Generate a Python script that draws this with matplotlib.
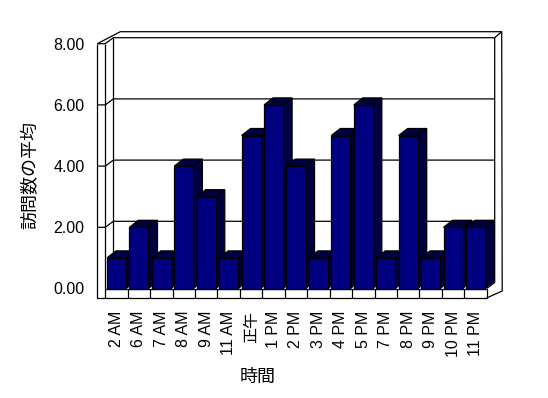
import matplotlib
matplotlib.use('Agg')
import matplotlib.pyplot as plt

plt.rcParams['font.family'] = ['Liberation Sans', 'Noto Sans CJK JP']
plt.rcParams['font.size'] = 11.5

hours = ['2 AM', '6 AM', '7 AM', '8 AM', '9 AM', '11 AM', '正午', '1 PM', '2 PM',
         '3 PM', '4 PM', '5 PM', '7 PM', '8 PM', '9 PM', '10 PM', '11 PM']
visits = [1, 2, 1, 4, 3, 1, 5, 6, 4, 1, 5, 6, 1, 5, 1, 2, 2]
y_ticks = [0, 2, 4, 6, 8]

front_col = '#000080'
dark_col = '#000040'
lw = 0.9

fig = plt.figure(figsize=(5.48, 3.98), dpi=100)
ax = fig.add_axes([105.3 / 548, (398 - 288.5) / 398, 381.4 / 548, 244.8 / 398])
n = len(hours)
x0, x1 = -0.5, n - 0.5
ax.set_xlim(x0, x1)
ax.set_ylim(0, 8)
for s in ax.spines.values():
    s.set_visible(False)

# pixels per data unit, to shift things "into depth"
p0 = ax.transData.transform((0, 0))
p1 = ax.transData.transform((1, 1))
ppx, ppy = p1[0] - p0[0], p1[1] - p0[1]


def pt(x, y, dx=0, dy=0):
    # dx to the right, dy downwards, in pixels
    return (x + dx / ppx, y - dy / ppy)


def line(*pts, z=1):
    xs = [p[0] for p in pts]
    ys = [p[1] for p in pts]
    ax.plot(xs, ys, color='black', lw=lw, clip_on=False, zorder=z,
            solid_capstyle='butt')


W1 = (8, -6)    # inner face of the back wall
W2 = (15, -12)  # outer face of the back wall
T = 8           # left wall thickness
F = 9.5         # floor thickness
top = 8

# back wall and left wall
line(pt(x0, top, -T), pt(x0, top), pt(x0, top, *W1), pt(x1, top, *W1),
     pt(x1, 0, *W1), pt(x1, 0))
line(pt(x0, top, -T), pt(x0, top, *W2), pt(x1, top, *W2), pt(x1, 0, 15.5, 2.5),
     pt(x1, 0, 0, F))
line(pt(x1, top, *W1), pt(x1, top, *W2))
line(pt(x0, top, *W1), pt(x0, 0, *W1))
for v in y_ticks[1:-1]:
    line(pt(x0, v, -T), pt(x0, v), pt(x0, v, *W1), pt(x1, v, *W1))

# front faces of left wall and floor
line(pt(x0, top, -T), pt(x0, 0, -T, F), pt(x1, 0, 0, F), pt(x1, 0))
line(pt(x0, top), pt(x0, 0))
line(pt(x0, 0), pt(x1, 0))
for k in range(n):
    line(pt(k - 0.5, 0), pt(k - 0.5, 0, 0, F))

# bars
w = 0.85
B = (9, -7)
for i, v in enumerate(visits):
    l, r = i - w / 2, i + w / 2
    side = [pt(r, 0), pt(r, v), pt(r, v, *B), pt(r, 0, *B)]
    roof = [pt(l, v), pt(r, v), pt(r, v, *B), pt(l, v, *B)]
    for poly in (side, roof):
        ax.fill([p[0] for p in poly], [p[1] for p in poly], facecolor=dark_col,
                edgecolor='black', lw=lw, clip_on=False, zorder=3)
ax.bar(range(n), visits, width=w, color=front_col, edgecolor='black', lw=lw,
       zorder=4, clip_on=False)

ax.set_xticks(range(n))
ax.set_xticklabels(hours, rotation=90)
ax.set_yticks(y_ticks)
ax.set_yticklabels([f'{v:.2f}' for v in y_ticks])
ax.tick_params(axis='x', length=0, pad=16)
ax.tick_params(axis='y', length=0, pad=15)

fig.text(30 / 548, 1 - 175 / 398, '訪問数の平均', rotation=90, ha='center',
         va='center', fontsize=13, family='Noto Sans CJK JP')
fig.text(258 / 548, 1 - 377 / 398, '時間', ha='center', va='center', fontsize=13,
         family='Noto Sans CJK JP')

fig.savefig('out.png', dpi=100)
